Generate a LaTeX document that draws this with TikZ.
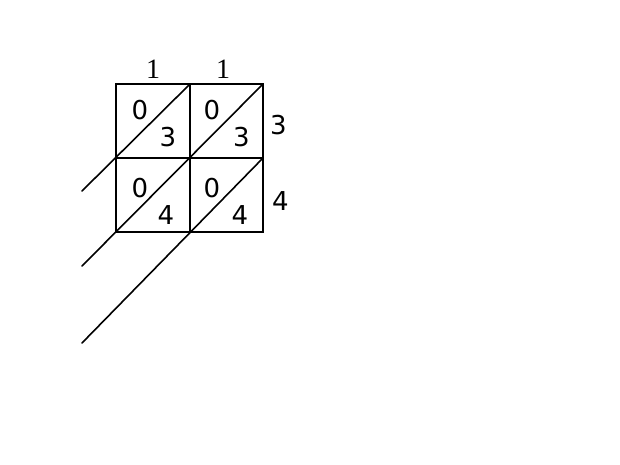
\documentclass[tikz,border=0pt]{standalone}
\usepackage{fontspec}
\newfontfamily\digitfont{DejaVu Sans}
\newfontfamily\topfont{Liberation Serif}
\begin{document}
\begin{tikzpicture}[x=1pt,y=-1pt,
  grid/.style={line width=1.6pt, line cap=round, line join=miter},
  celldigit/.style={font={\fontsize{26}{26}\digitfont}, inner sep=0pt},
  topdigit/.style={font={\fontsize{28}{28}\topfont}, inner sep=0pt}]
\useasboundingbox (0,0) rectangle (620,465);
% grid corners
\coordinate (a0) at (116,84);  \coordinate (a1) at (190,84);  \coordinate (a2) at (263,84);
\coordinate (b0) at (116,158); \coordinate (b1) at (190,158); \coordinate (b2) at (263,158);
\coordinate (c0) at (116,232); \coordinate (c1) at (190,232); \coordinate (c2) at (263,232);
% free ends of the diagonals
\coordinate (e1) at (82,191);
\coordinate (e2) at (82,266);
\coordinate (e3) at (82,343);
% cells
\draw[grid] (a0) rectangle (c2);
\draw[grid] (a1) -- (c1);
\draw[grid] (b0) -- (b2);
% diagonals
\draw[grid] (a1) -- (e1);
\draw[grid] (a2) -- (e2);
\draw[grid] (b2) -- (e3);
% top labels
\node[topdigit] (t1) at (153,69.5) {1};
\node[topdigit] (t2) at (223,69.5) {1};
% side labels
\node[celldigit] (s1) at (278.5,125) {3};
\node[celldigit] (s2) at (280.5,201.5) {4};
% cell digits
\node[celldigit] (p1) at (140,110) {0};
\node[celldigit] (q1) at (168,137) {3};
\node[celldigit] (p2) at (212,110) {0};
\node[celldigit] (q2) at (241.5,137) {3};
\node[celldigit] (p3) at (140,188) {0};
\node[celldigit] (q3) at (166,215.5) {4};
\node[celldigit] (p4) at (212,188) {0};
\node[celldigit] (q4) at (240,215.5) {4};
\end{tikzpicture}
\end{document}
